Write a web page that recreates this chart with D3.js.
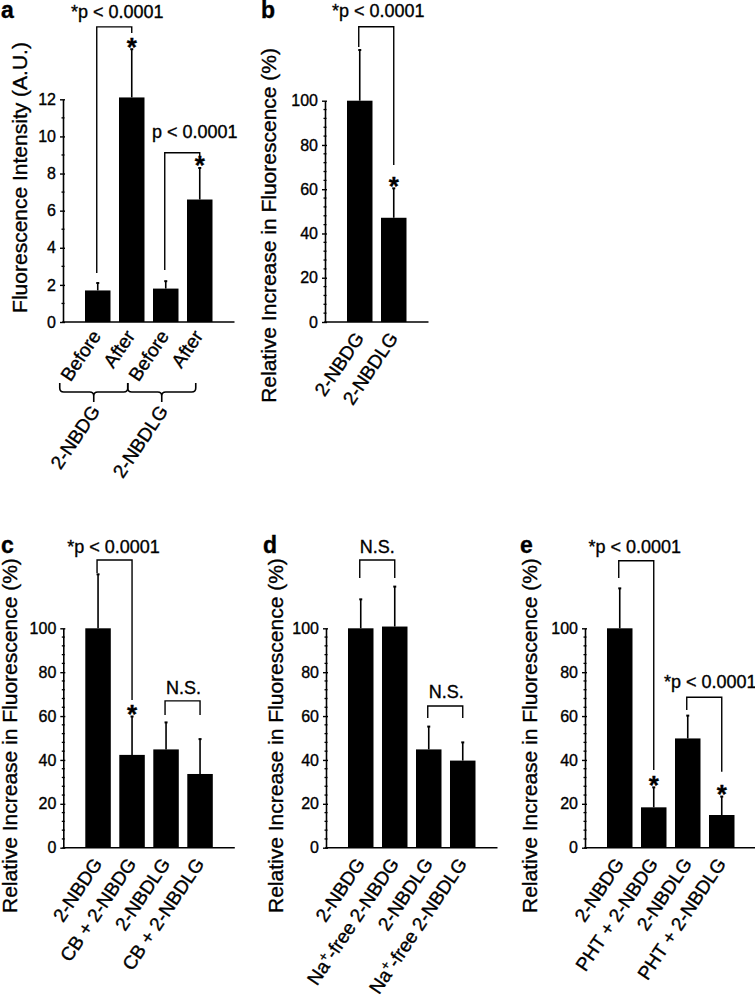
<!DOCTYPE html>
<html><head><meta charset="utf-8">
<script src="https://cdn.jsdelivr.net/npm/d3@7"></script>
<style>
body{margin:0;background:#fff;}
svg{display:block;font-family:"Liberation Sans",Arial,Helvetica,sans-serif;}
svg text{stroke:#000;stroke-width:0.35px;fill:#000;}
</style></head><body>
<svg id="chart" width="755" height="1003"></svg>
<script>
// ---------------- data ----------------
const aCategories = ["Before", "After", "Before", "After"];
const aGroups = ["2-NBDG", "2-NBDLG"];
const aMeans = [1.7, 12.1, 1.8, 6.6];
const aSD = [0.4, 2.6, 0.4, 1.7];
const aTicks = [0, 2, 4, 6, 8, 10, 12];

const bCategories = ["2-NBDG", "2-NBDLG"];
const bMeans = [100, 47.1];
const bSD = [22.9, 13.3];

const cCategories = ["2-NBDG", "CB + 2-NBDG", "2-NBDLG", "CB + 2-NBDLG"];
const cMeans = [100, 42.3, 44.8, 33.6];
const cSD = [24.6, 17.5, 12.3, 15.9];

const dCategories = ["2-NBDG", "Na+-free 2-NBDG", "2-NBDLG", "Na+-free 2-NBDLG"];
const dMeans = [100, 100.8, 44.8, 39.7];
const dSD = [13.2, 18.2, 10.4, 8.3];

const eCategories = ["2-NBDG", "PHT + 2-NBDG", "2-NBDLG", "PHT + 2-NBDLG"];
const eMeans = [100, 18.4, 49.8, 14.9];
const eSD = [18.2, 9.1, 10.4, 8.4];

const pctTicks = [0, 20, 40, 60, 80, 100];

// brackets: from bar, to bar, top level, left leg end, right leg end, label, star on right bar
const aBrackets = [
  [0, 1, 15.9, 2.64, 15.57, "*p < 0.0001", true],
  [2, 3, 9.12, 2.8, 8.89, "p < 0.0001", true]
];
const bBrackets = [[0, 1, 133.4, 124.3, 70.9, "*p < 0.0001", true]];
const cBrackets = [
  [0, 1, 131.1, 125.2, 67.3, "*p < 0.0001", true],
  [2, 3, 66.9, 60.5, 60.5, "N.S.", false]
];
const dBrackets = [
  [0, 1, 131.1, 122.9, 122.9, "N.S.", false],
  [2, 3, 64.6, 59.1, 59.1, "N.S.", false]
];
const eBrackets = [
  [0, 1, 130.8, 122.9, 35.4, "*p < 0.0001", true],
  [2, 3, 68.6, 62.8, 34.6, "*p < 0.0001", true]
];

// ---------------- layout ----------------
const panels = [
  {letter: "a", cats: aCategories, means: aMeans, sd: aSD, ticks: aTicks, max: 12, minor: 1,
   brackets: aBrackets, textOff: [[3, 9.4], [12.5, 15]],
   x: 63, y0: 322, yTop: 99.3, letterPos: [1, 18],
   ylab: "Fluorescence Intensity (A.U.)", ylabX: 27, ylabY: 177.5, ylabAnchor: "middle",
   xlabOff: [4, 14]},
  {letter: "b", cats: bCategories, means: bMeans, sd: bSD, ticks: pctTicks, max: 100, minor: 4,
   brackets: bBrackets, textOff: [[2, 9.4]],
   x: 325, y0: 322, yTop: 100.7, letterPos: [261, 18],
   ylab: "Relative Increase in Fluorescence (%)", ylabX: 276, ylabY: 48, ylabAnchor: "end",
   xlabOff: [5, 16]},
  {letter: "c", cats: cCategories, means: cMeans, sd: cSD, ticks: pctTicks, max: 100, minor: 4,
   brackets: cBrackets, textOff: [[-1, 7], [1, 7]],
   x: 63.3, y0: 847.7, yTop: 628.3, letterPos: [1, 553],
   ylab: "Relative Increase in Fluorescence (%)", ylabX: 17, ylabY: 913, ylabAnchor: "start",
   xlabOff: [5, 16]},
  {letter: "d", cats: dCategories, means: dMeans, sd: dSD, ticks: pctTicks, max: 100, minor: 4,
   brackets: dBrackets, textOff: [[0, 7.3], [1, 8]],
   x: 326, y0: 847.7, yTop: 628.3, letterPos: [263, 553],
   ylab: "Relative Increase in Fluorescence (%)", ylabX: 282.5, ylabY: 913, ylabAnchor: "start",
   xlabOff: [5, 16]},
  {letter: "e", cats: eCategories, means: eMeans, sd: eSD, ticks: pctTicks, max: 100, minor: 4,
   brackets: eBrackets, textOff: [[-1.5, 7.7], [6, 9]],
   x: 585, y0: 847.7, yTop: 628.3, letterPos: [520, 553],
   ylab: "Relative Increase in Fluorescence (%)", ylabX: 536.5, ylabY: 913, ylabAnchor: "start",
   xlabOff: [5, 16]}
];

const STEP = 34, P_IN = 0.25, P_OUT = 0.647;
const ANGLE = -56;
const svg = d3.select("#chart");

function writeLabel(sel, label) {
  if (label.startsWith("Na+")) {
    sel.append("tspan").text("Na");
    sel.append("tspan").attr("dy", -7).style("font-size", "13px").text("+");
    sel.append("tspan").attr("dy", 7).text(label.slice(3));
  } else {
    sel.text(label);
  }
}

panels.forEach(P => {
  const n = P.cats.length;
  const g = svg.append("g");
  const x = d3.scaleBand().domain(d3.range(n))
    .range([P.x, P.x + STEP * (n - P_IN + 2 * P_OUT)])
    .paddingInner(P_IN).paddingOuter(P_OUT);
  const y = d3.scaleLinear().domain([0, P.max]).range([P.y0, P.yTop]);
  const cx = i => x(i) + x.bandwidth() / 2;

  // bars
  g.selectAll("rect.bar").data(P.means).join("rect")
    .attr("x", (d, i) => x(i)).attr("width", x.bandwidth())
    .attr("y", d => y(d)).attr("height", d => P.y0 - y(d))
    .attr("fill", "#000");

  // error bars
  g.selectAll("line.err").data(P.means).join("line")
    .attr("x1", (d, i) => cx(i)).attr("x2", (d, i) => cx(i))
    .attr("y1", d => y(d)).attr("y2", (d, i) => y(d + P.sd[i]))
    .attr("stroke", "#000").attr("stroke-width", 1.6);
  g.selectAll("line.cap").data(P.means).join("line")
    .attr("x1", (d, i) => cx(i) - 1.5).attr("x2", (d, i) => cx(i) + 1.5)
    .attr("y1", (d, i) => y(d + P.sd[i])).attr("y2", (d, i) => y(d + P.sd[i]))
    .attr("stroke", "#000").attr("stroke-width", 2);

  // y axis
  const ax = g.append("g").attr("transform", `translate(${P.x},0)`)
    .call(d3.axisLeft(y).tickValues(P.ticks).tickSize(3).tickPadding(4).tickSizeOuter(0));
  ax.attr("font-family", null).attr("font-size", null);
  ax.select(".domain").attr("stroke-width", 1.6);
  ax.selectAll(".tick line").attr("x1", 2).attr("stroke-width", 1.4);
  ax.selectAll(".tick text").style("font-size", "16px").attr("fill", "#000");
  const minors = d3.range(0, P.max + 1e-9, P.minor).filter(v => !P.ticks.includes(v));
  ax.selectAll("line.minor").data(minors).join("line")
    .attr("x1", -1.5).attr("x2", 1.5).attr("y1", d => y(d)).attr("y2", d => y(d))
    .attr("stroke", "#000").attr("stroke-width", 1.3);

  // x axis baseline
  g.append("line").attr("x1", x.range()[0] - 0.8).attr("x2", x.range()[1])
    .attr("y1", P.y0).attr("y2", P.y0).attr("stroke", "#000").attr("stroke-width", 1.6);

  // x labels
  P.cats.forEach((c, i) => {
    const t = g.append("text")
      .attr("transform", `translate(${cx(i) + P.xlabOff[0]},${P.y0 + P.xlabOff[1]}) rotate(${ANGLE})`)
      .attr("text-anchor", "end").style("font-size", "19px");
    writeLabel(t, c);
  });

  // y label
  g.append("text")
    .attr("transform", `translate(${P.ylabX},${P.ylabY}) rotate(-90)`)
    .attr("text-anchor", P.ylabAnchor).style("font-size", "21px")
    .text(P.ylab);

  // panel letter
  g.append("text").attr("x", P.letterPos[0]).attr("y", P.letterPos[1])
    .style("font-size", "23px").style("font-weight", "bold").text(P.letter);

  // brackets
  P.brackets.forEach((b, k) => {
    const [i, j, top, le, re, label, star] = b;
    const xl = cx(i) - 1, xr = cx(j);
    g.append("path")
      .attr("d", `M${xl},${y(le)}V${y(top)}H${xr}V${y(re)}`)
      .attr("fill", "none").attr("stroke", "#000").attr("stroke-width", 1.4);
    g.append("text").attr("x", (xl + xr) / 2 + P.textOff[k][0]).attr("y", y(top) - P.textOff[k][1])
      .attr("text-anchor", "middle").style("font-size", "18px").text(label);
    if (star) {
      g.append("text").attr("x", xr).attr("y", y(P.means[j] + P.sd[j]) + 6.5)
        .attr("text-anchor", "middle").style("font-size", "26px").style("font-weight", "bold").text("*");
    }
  });

  // group braces (panel a)
  if (P.letter === "a") {
    const braces = [[0, 1], [2, 3]];
    braces.forEach(([i, j], k) => {
      const x0 = cx(i) - 38, x1 = cx(j) - 4, s = (x0 + x1) / 2;
      const yT = P.y0 + 61, yH = P.y0 + 70, yS = P.y0 + 80, r = 4;
      g.append("path")
        .attr("d", `M${x0},${yT}L${x0},${yH - r}Q${x0},${yH} ${x0 + r},${yH}L${s - r},${yH}Q${s},${yH} ${s},${yH + r}L${s},${yS}M${s},${yH + r}Q${s},${yH} ${s + r},${yH}L${x1 - r},${yH}Q${x1},${yH} ${x1},${yH - r}L${x1},${yT}`)
        .attr("fill", "none").attr("stroke", "#000").attr("stroke-width", 1.6);
      g.append("text")
        .attr("transform", `translate(${s + 7},${yS + 9}) rotate(${ANGLE})`)
        .attr("text-anchor", "end").style("font-size", "19px").text(aGroups[k]);
    });
  }
});
</script>
</body></html>
